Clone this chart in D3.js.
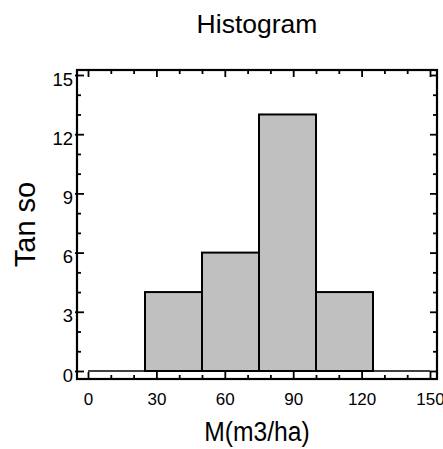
<!DOCTYPE html>
<html>
<head>
<meta charset="utf-8">
<script src="https://cdn.jsdelivr.net/npm/d3@7"></script>
<style>
  body { margin: 0; background: #fff; }
  text { font-family: "Liberation Sans", Arial, Helvetica, sans-serif; fill: #000; }
</style>
</head>
<body>
<svg id="chart" width="443" height="449"></svg>
<script>
// histogram data
var binEdges = [25, 50, 75, 100, 125];
var counts = [4, 6, 13, 4];
var xTicks = [0, 30, 60, 90, 120, 150];
var yTicks = [0, 3, 6, 9, 12, 15];
var titleText = "Histogram";
var xLabel = "M(m3/ha)";
var yLabel = "Tan so";

var WIDTH = 443, HEIGHT = 449;
var FRAME = {left: 77, right: 437, top: 70, bottom: 379};

var svg = d3.select("#chart");

var xScale = d3.scaleLinear().domain([0, 150]).range([88, 430]);
var yScale = d3.scaleLinear().domain([0, 15]).range([371, 75]);

var bins = counts.map(function(c, i){
    return {x0: binEdges[i], x1: binEdges[i+1], count: c};
});

// title
svg.append("text")
    .attr("x", (FRAME.left + FRAME.right)/2)
    .attr("y", 33)
    .attr("text-anchor", "middle")
    .style("font-size", "26.5px")
    .text(titleText);

// zero line
svg.append("line")
    .attr("x1", xScale(0)).attr("x2", xScale(150))
    .attr("y1", yScale(0)).attr("y2", yScale(0))
    .attr("stroke", "#000").attr("stroke-width", 1.5);

// bars
svg.selectAll(".bar")
    .data(bins)
    .enter().append("rect")
    .attr("class", "bar")
    .attr("x", function(d){return xScale(d.x0)})
    .attr("width", function(d){return xScale(d.x1) - xScale(d.x0)})
    .attr("y", function(d){return yScale(d.count)})
    .attr("height", function(d){return yScale(0) - yScale(d.count)})
    .attr("fill", "#c0c0c0")
    .attr("stroke", "#000")
    .attr("stroke-width", 2);

// ticks: major + minor on all four sides
function addTicks(g, axis){
    g.call(axis);
    g.select(".domain").remove();
    g.selectAll(".tick line").attr("stroke", "#000").attr("stroke-width", 1.8);
    return g;
}

var xMinor = d3.range(0, 151, 10).filter(function(v){return v % 30 != 0});
var yMinor = d3.range(0, 16, 1).filter(function(v){return v % 3 != 0});

// bottom
var gb = addTicks(svg.append("g").attr("transform", "translate(0," + FRAME.bottom + ")"),
    d3.axisBottom(xScale).tickValues(xTicks).tickSizeInner(-7).tickSizeOuter(0));
gb.selectAll(".tick text")
    .style("font-size", "17px")
    .attr("y", 26)
    .attr("dy", 0);
addTicks(svg.append("g").attr("transform", "translate(0," + FRAME.bottom + ")"),
    d3.axisBottom(xScale).tickValues(xMinor).tickSizeInner(-4).tickSizeOuter(0).tickFormat(""));

// top
addTicks(svg.append("g").attr("transform", "translate(0," + FRAME.top + ")"),
    d3.axisTop(xScale).tickValues(xTicks).tickSizeInner(-7).tickSizeOuter(0).tickFormat(""));
addTicks(svg.append("g").attr("transform", "translate(0," + FRAME.top + ")"),
    d3.axisTop(xScale).tickValues(xMinor).tickSizeInner(-4).tickSizeOuter(0).tickFormat(""));

// left
var gl = addTicks(svg.append("g").attr("transform", "translate(" + FRAME.left + ",0)"),
    d3.axisLeft(yScale).tickValues(yTicks).tickSizeInner(-7).tickSizeOuter(0));
gl.selectAll(".tick line").attr("x1", -2);
gl.selectAll(".tick text")
    .style("font-size", "18.5px")
    .attr("x", -4)
    .attr("dy", "10px");
addTicks(svg.append("g").attr("transform", "translate(" + FRAME.left + ",0)"),
    d3.axisLeft(yScale).tickValues(yMinor).tickSizeInner(-4).tickSizeOuter(0).tickFormat(""));

// right
addTicks(svg.append("g").attr("transform", "translate(" + FRAME.right + ",0)"),
    d3.axisRight(yScale).tickValues(yTicks).tickSizeInner(-7).tickSizeOuter(0).tickFormat(""));
addTicks(svg.append("g").attr("transform", "translate(" + FRAME.right + ",0)"),
    d3.axisRight(yScale).tickValues(yMinor).tickSizeInner(-4).tickSizeOuter(0).tickFormat(""));

// frame
svg.append("rect")
    .attr("x", FRAME.left).attr("y", FRAME.top)
    .attr("width", FRAME.right - FRAME.left)
    .attr("height", FRAME.bottom - FRAME.top)
    .attr("fill", "none")
    .attr("stroke", "#000")
    .attr("stroke-width", 2.2);

// axis labels
svg.append("text")
    .attr("transform", "translate(" + (FRAME.left + FRAME.right)/2 + ",441) scale(0.88,1)")
    .attr("text-anchor", "middle")
    .style("font-size", "28px")
    .text(xLabel);

svg.append("text")
    .attr("transform", "translate(35," + (FRAME.top + FRAME.bottom)/2 + ") rotate(-90)")
    .attr("text-anchor", "middle")
    .style("font-size", "29px")
    .text(yLabel);
</script>
</body>
</html>
